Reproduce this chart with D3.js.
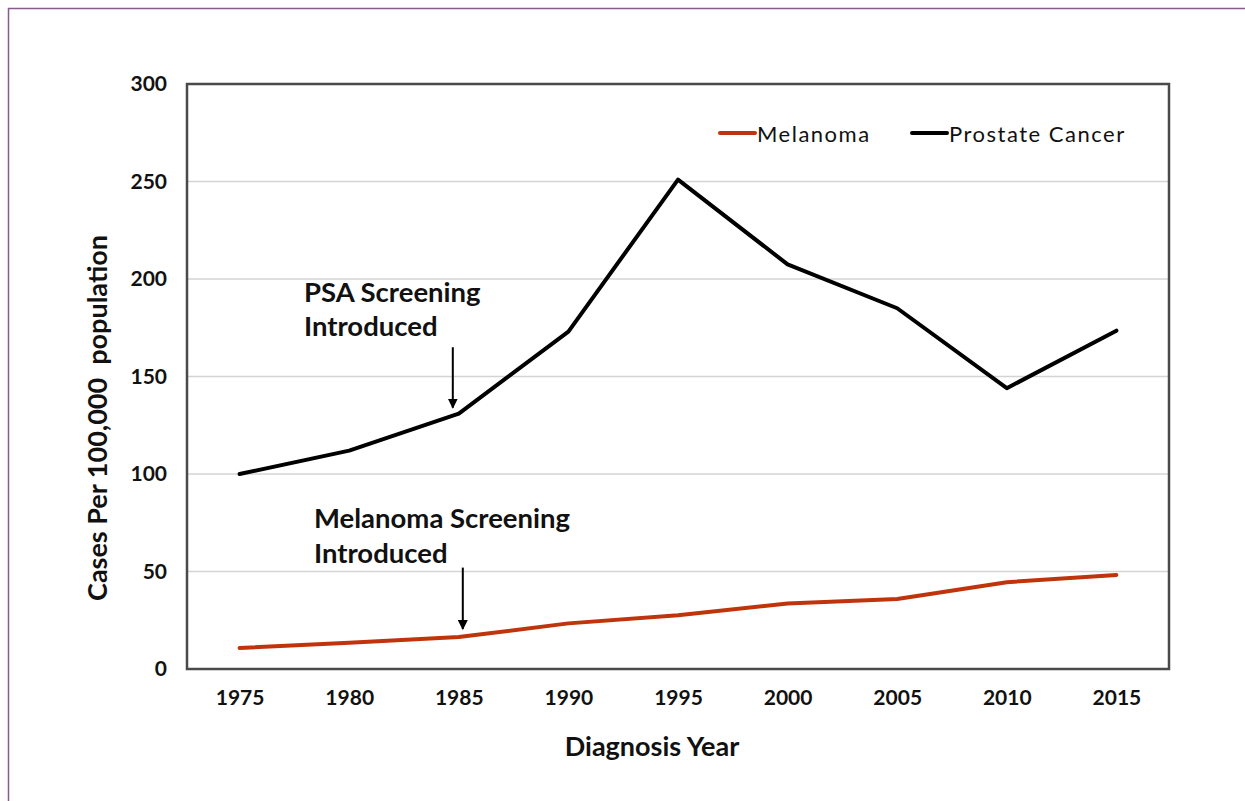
<!DOCTYPE html>
<html>
<head>
<meta charset="utf-8">
<script src="https://cdn.jsdelivr.net/npm/d3@7"></script>
<style>
  body { margin: 0; background: #fff; }
  text { font-family: Lato, "Open Sans", sans-serif; }
</style>
</head>
<body>
<script>
var years = [1975, 1980, 1985, 1990, 1995, 2000, 2005, 2010, 2015];
var melanoma = [10.8, 13.4, 16.4, 23.4, 27.6, 33.6, 35.9, 44.5, 48.2];
var prostate = [100, 112, 131, 173, 251, 207.5, 185, 144, 173.5];
var yTicks = [0, 50, 100, 150, 200, 250, 300];
var seriesNames = ["Melanoma", "Prostate Cancer"];
var seriesColors = ["#c0340c", "#000000"];

var width = 1245, height = 801;
var margin = { left: 187, top: 84, right: 1169, bottom: 669 };

var svg = d3.select("body")
  .append("svg")
  .attr("width", width)
  .attr("height", height);

// page border (top and left only visible)
svg.append("path")
  .attr("d", "M8.5," + height + "V8.5H" + width)
  .attr("fill", "none")
  .attr("stroke", "#8a5a8e")
  .attr("stroke-width", 1.5);

var x = d3.scalePoint()
  .domain(years)
  .range([margin.left, margin.right])
  .padding(0.48);

var y = d3.scaleLinear()
  .domain([0, 300])
  .range([margin.bottom, margin.top]);

// gridlines
svg.append("g")
  .selectAll("line")
  .data(yTicks.filter(function(d) { return d > 0 && d < 300; }))
  .enter()
  .append("line")
  .attr("x1", margin.left)
  .attr("x2", margin.right)
  .attr("y1", function(d) { return y(d); })
  .attr("y2", function(d) { return y(d); })
  .attr("stroke", "#d4d4d4")
  .attr("stroke-width", 1.5);

// y axis labels
var yAxis = d3.axisLeft(y).tickValues(yTicks).tickSize(0).tickPadding(20);
svg.append("g")
  .attr("transform", "translate(" + margin.left + ",0)")
  .call(yAxis)
  .call(function(g) { g.select(".domain").remove(); })
  .selectAll("text")
  .attr("font-family", "Lato, sans-serif")
  .attr("font-size", 21)
  .attr("font-weight", "bold")
  .attr("fill", "#111");

// x axis labels
var xAxis = d3.axisBottom(x).tickSize(0).tickPadding(21);
svg.append("g")
  .attr("transform", "translate(0," + margin.bottom + ")")
  .call(xAxis)
  .call(function(g) { g.select(".domain").remove(); })
  .selectAll("text")
  .attr("font-family", "Lato, sans-serif")
  .attr("font-size", 21)
  .attr("font-weight", "bold")
  .attr("fill", "#111");

// plot frame
svg.append("rect")
  .attr("x", margin.left)
  .attr("y", margin.top)
  .attr("width", margin.right - margin.left)
  .attr("height", margin.bottom - margin.top)
  .attr("fill", "none")
  .attr("stroke", "#4a4a4a")
  .attr("stroke-width", 2.5);

// lines
var line = d3.line()
  .x(function(d, i) { return x(years[i]); })
  .y(function(d) { return y(d); });

svg.append("path")
  .datum(melanoma)
  .attr("d", line)
  .attr("fill", "none")
  .attr("stroke", seriesColors[0])
  .attr("stroke-width", 4)
  .attr("stroke-linejoin", "round")
  .attr("stroke-linecap", "round");

svg.append("path")
  .datum(prostate)
  .attr("d", line)
  .attr("fill", "none")
  .attr("stroke", seriesColors[1])
  .attr("stroke-width", 4)
  .attr("stroke-linejoin", "round")
  .attr("stroke-linecap", "round");

// legend
var legendX = [720, 912];
var legend = svg.append("g");
seriesNames.forEach(function(name, i) {
  legend.append("line")
    .attr("x1", legendX[i]).attr("x2", legendX[i] + 35)
    .attr("y1", 133).attr("y2", 133)
    .attr("stroke", seriesColors[i])
    .attr("stroke-width", 4)
    .attr("stroke-linecap", "round");
  legend.append("text")
    .attr("x", legendX[i] + 37)
    .attr("y", 142)
    .attr("font-size", 22)
    .attr("letter-spacing", 1.5)
    .attr("fill", "#111")
    .text(name);
});

// arrow marker
svg.append("defs").append("marker")
  .attr("id", "arrow")
  .attr("viewBox", "0 0 10 10")
  .attr("refX", 9).attr("refY", 5)
  .attr("markerWidth", 5).attr("markerHeight", 5)
  .attr("markerUnits", "strokeWidth")
  .attr("orient", "auto")
  .append("path")
  .attr("d", "M0,0L10,5L0,10z")
  .attr("fill", "#000");

// annotations
var notes = [
  { lines: ["PSA Screening", "Introduced"], year: 1985, dx: -6, from: 165, to: 134, tx: 304, ty: 302, gap: 34 },
  { lines: ["Melanoma Screening", "Introduced"], year: 1985, dx: 4, from: 52, to: 20.5, tx: 314, ty: 528, gap: 35 }
];
notes.forEach(function(n) {
  svg.append("line")
    .attr("x1", x(n.year) + n.dx).attr("x2", x(n.year) + n.dx)
    .attr("y1", y(n.from)).attr("y2", y(n.to))
    .attr("stroke", "#000")
    .attr("stroke-width", 2)
    .attr("marker-end", "url(#arrow)");
  n.lines.forEach(function(t, j) {
    svg.append("text")
      .attr("x", n.tx)
      .attr("y", n.ty + j * n.gap)
      .attr("font-size", 27.5)
      .attr("font-weight", "bold")
      .attr("fill", "#111")
      .text(t);
  });
});

// axis titles
svg.append("text")
  .attr("x", 652)
  .attr("y", 756)
  .attr("text-anchor", "middle")
  .attr("font-size", 27)
  .attr("font-weight", "bold")
  .attr("fill", "#111")
  .text("Diagnosis Year");

svg.append("text")
  .attr("transform", "translate(107,418) rotate(-90)")
  .attr("text-anchor", "middle")
  .attr("font-size", 27)
  .attr("font-weight", "bold")
  .attr("fill", "#111")
  .style("white-space", "pre")
  .text("Cases Per 100,000  population");
</script>
</body>
</html>
